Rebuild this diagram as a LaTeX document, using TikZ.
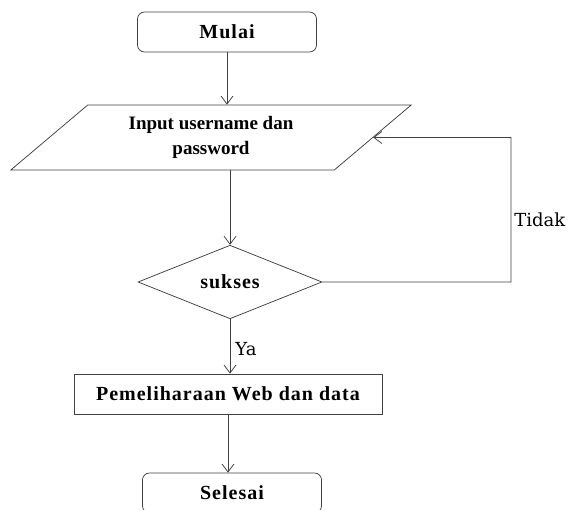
\documentclass[tikz,border=0pt]{standalone}
\usepackage{fontspec}
\setmainfont{Liberation Serif}
\newfontfamily\labelfont{DejaVu Serif}
\newfontfamily\boxfont[LetterSpace=5]{Liberation Serif}
\usetikzlibrary{shapes.geometric,arrows.meta,calc}

\tikzset{every picture/.style={line width=0.75pt}}
\tikzset{
	terminal/.style={draw=black!75, rounded corners=7pt, minimum width=179pt, minimum height=40pt, inner sep=0pt, font=\boxfont\bfseries\fontsize{20}{24}\selectfont},
	inputbox/.style={draw=black!75, trapezium, trapezium left angle=39.4, trapezium right angle=140.6, trapezium stretches=true, minimum width=402pt, minimum height=65pt, inner sep=0pt, align=center, font=\bfseries\fontsize{19}{25}\selectfont},
	decision/.style={draw=black!75, diamond, minimum width=184pt, minimum height=72pt, inner sep=0pt, font=\boxfont\bfseries\fontsize{20}{24}\selectfont},
	process/.style={draw=black!75, rectangle, minimum width=308pt, minimum height=40pt, inner sep=0pt, font=\boxfont\bfseries\fontsize{20}{24}\selectfont},
	flow/.style={draw=black!75, -{Straight Barb[length=8pt,width=12pt]}},
	lbl/.style={inner sep=0pt, font=\labelfont\fontsize{18}{22}\selectfont}
}

\begin{document}
\begin{tikzpicture}[x=1pt,y=1pt,yscale=-1,xscale=1]
	\useasboundingbox (0,0) rectangle (569,510);
	
	% blok utama
	\node (mulai) [terminal] at (227,32) {Mulai};
	\node (input) [inputbox] at (211,137.5) {Input username dan\\password};
	\node (sukses) [decision] at (230,282) {sukses};
	\node (pelihara) [process] at (228,394) {Pemeliharaan Web dan data};
	\node (selesai) [terminal] at (232,493) {Selesai};
	
	% titik bantu loop
	\coordinate (belok1) at (511,282);
	\coordinate (belok2) at (511,137.5);
	
	% panah
	\draw [flow] (mulai.south) -- (mulai.south |- input.north);
	\draw [flow] (sukses.north |- input.south) -- (sukses.north);
	\draw [flow] (sukses.south) -- (sukses.south |- pelihara.north);
	\draw [flow] (pelihara.south) -- (pelihara.south |- selesai.north);
	\draw [flow] (sukses.east) -- (belok1) -- (belok2) -- (input.east);
	
	% label
	\node (ya) [lbl, anchor=west] at (235,349) {Ya};
	\node (tidak) [lbl, anchor=west] at (514,220) {Tidak};
	
\end{tikzpicture}
\end{document}
